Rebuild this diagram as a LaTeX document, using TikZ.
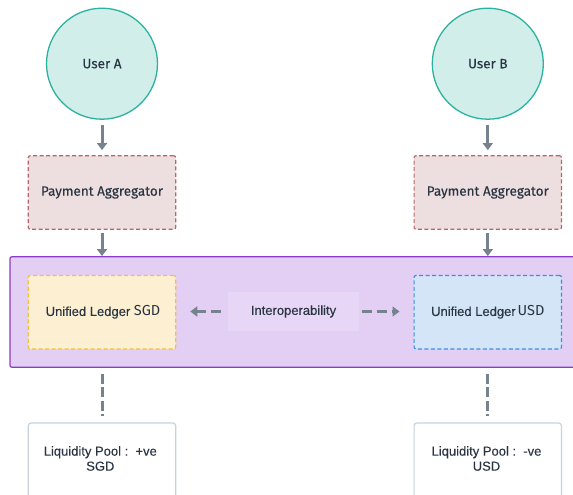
\documentclass[tikz,border=0pt]{standalone}
\usepackage{fontspec}
\setmainfont{Liberation Sans}[FakeBold=0.15]
\newfontfamily\dinfont[FakeBold=0.3]{Fira Sans}
\newfontfamily\codefont{Fira Sans}
\usetikzlibrary{arrows.meta,calc}

\definecolor{inkText}{HTML}{2A3544}
\definecolor{arrowGrey}{HTML}{76838F}
\definecolor{userFill}{HTML}{D2EEEB}
\definecolor{userLine}{HTML}{2BB3A0}
\definecolor{aggFill}{HTML}{EDDFE0}
\definecolor{aggLine}{HTML}{B5666A}
\definecolor{bandFill}{HTML}{E3CEF4}
\definecolor{bandLine}{HTML}{8A3BC7}
\definecolor{interFill}{HTML}{E8D6F6}
\definecolor{sgdFill}{HTML}{FDF0D2}
\definecolor{sgdLine}{HTML}{F4C03E}
\definecolor{usdFill}{HTML}{D3E5F6}
\definecolor{usdLine}{HTML}{3F8FE0}
\definecolor{poolLine}{HTML}{C8D2DC}

\tikzset{
  x=1pt, y=-1pt,
  every node/.style={text=inkText, font=\fontsize{13}{15}\selectfont},
  user/.style={circle, draw=userLine, fill=userFill, line width=1.3pt,
    minimum size=111pt, inner sep=0pt, font=\dinfont\fontsize{13.5}{15.5}\selectfont},
  boxdash/.style={rectangle, rounded corners=2pt, line width=1.2pt,
    dash pattern=on 4pt off 2.5pt, minimum width=147.4pt, minimum height=73.6pt, inner sep=0pt},
  aggregator/.style={boxdash, draw=aggLine, fill=aggFill, font=\dinfont\fontsize{13.5}{15.5}\selectfont},
  ledgerSGD/.style={boxdash, draw=sgdLine, fill=sgdFill},
  ledgerUSD/.style={boxdash, draw=usdLine, fill=usdFill},
  band/.style={rectangle, rounded corners=2pt, draw=bandLine, fill=bandFill, line width=1.2pt,
    minimum width=570pt, minimum height=110.6pt, inner sep=0pt},
  interop/.style={rectangle, fill=interFill, minimum width=131.6pt, minimum height=38.3pt, inner sep=0pt},
  pool/.style={rectangle, rounded corners=3pt, draw=poolLine, fill=white, line width=1.2pt,
    minimum width=147.4pt, minimum height=100pt, inner sep=0pt, anchor=north},
  pooltext/.style={align=center, inner sep=0pt},
  flow/.style={draw=arrowGrey, line width=3pt, -{Triangle[length=7pt,width=10pt]}},
  dashflow/.style={flow, dash pattern=on 10pt off 5pt},
  tie/.style={draw=arrowGrey, line width=3pt, dash pattern=on 10pt off 3.5pt}
}

\begin{document}
\begin{tikzpicture}
\useasboundingbox[fill=white] (0,0) rectangle (573,495);

% users
\node[user] (userA) at (102,63.7) {User A};
\node[user] (userB) at (487.8,63.7) {User B};

% aggregators
\node[aggregator] (aggA) at (102,192.5) {Payment Aggregator};
\node[aggregator] (aggB) at (487.8,192.5) {Payment Aggregator};

% ledger band
\node[band] (band) at (295,312) {};
\node[ledgerSGD] (sgd) at (102,312.2) {\kern2pt Unified Ledger {\codefont\fontsize{14.5}{15}\selectfont SGD}};
\node[ledgerUSD] (usd) at (487.8,312.2) {Unified Ledger\kern2pt{\codefont\fontsize{14.5}{15}\selectfont USD}};
\node[interop] (inter) at (293.5,311.5) {Interoperability};

% liquidity pools
\node[pool] (poolA) at (102,422.3) {};
\node[pool] (poolB) at (487.8,422.3) {};
\node[pooltext] (poolAtext) at (100.3,458.5) {Liquidity Pool :\ \ +ve\\SGD};
\node[pooltext] (poolBtext) at (486.5,458.5) {Liquidity Pool :\ \ -ve\\USD};

% connectors
\draw[flow, shorten <=5.5pt, shorten >=5pt] (userA.south) -- (aggA.north);
\draw[flow, shorten <=5.5pt, shorten >=5pt] (userB.south) -- (aggB.north);
\draw[flow, shorten <=3pt] (aggA.south) -- (aggA |- band.north);
\draw[flow, shorten <=3pt] (aggB.south) -- (aggB |- band.north);
\draw[dashflow, shorten <=7pt, shorten >=14pt] (inter.west) -- (sgd.east |- inter.west);
\draw[dashflow, shorten <=2pt, shorten >=14pt] (inter.east) -- (usd.west |- inter.east);
\draw[tie, shorten <=6pt, shorten >=6pt] (sgd |- band.south) -- (poolA.north);
\draw[tie, shorten <=6pt, shorten >=6pt] (usd |- band.south) -- (poolB.north);
\end{tikzpicture}
\end{document}
